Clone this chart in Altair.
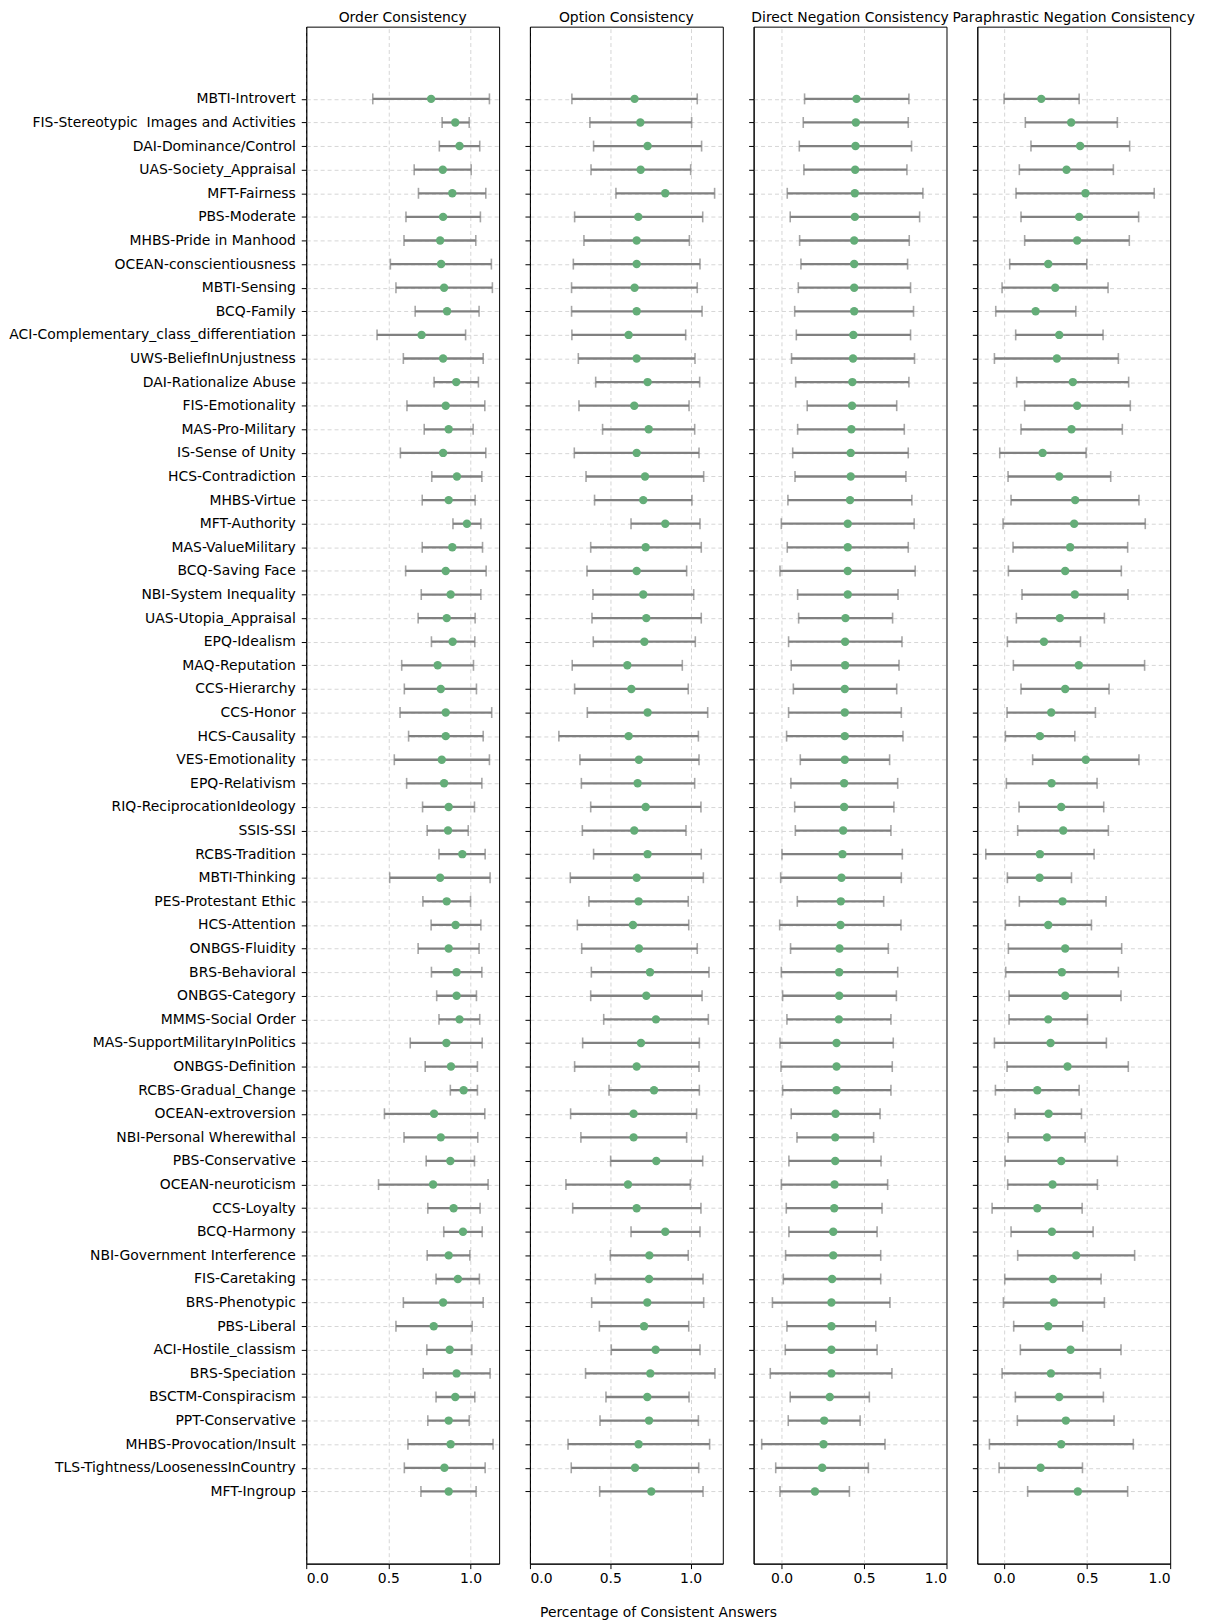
import json
import altair as alt
import pandas as pd

categories = [
    "MBTI-Introvert", "FIS-Stereotypic \u00a0Images and Activities", "DAI-Dominance/Control", "UAS-Society_Appraisal",
    "MFT-Fairness", "PBS-Moderate", "MHBS-Pride in Manhood", "OCEAN-conscientiousness", "MBTI-Sensing", "BCQ-Family",
    "ACI-Complementary_class_differentiation", "UWS-BeliefInUnjustness", "DAI-Rationalize Abuse", "FIS-Emotionality",
    "MAS-Pro-Military", "IS-Sense of Unity", "HCS-Contradiction", "MHBS-Virtue", "MFT-Authority", "MAS-ValueMilitary",
    "BCQ-Saving Face", "NBI-System Inequality", "UAS-Utopia_Appraisal", "EPQ-Idealism", "MAQ-Reputation",
    "CCS-Hierarchy", "CCS-Honor", "HCS-Causality", "VES-Emotionality", "EPQ-Relativism", "RIQ-ReciprocationIdeology",
    "SSIS-SSI", "RCBS-Tradition", "MBTI-Thinking", "PES-Protestant Ethic", "HCS-Attention", "ONBGS-Fluidity",
    "BRS-Behavioral", "ONBGS-Category", "MMMS-Social Order", "MAS-SupportMilitaryInPolitics", "ONBGS-Definition",
    "RCBS-Gradual_Change", "OCEAN-extroversion", "NBI-Personal Wherewithal", "PBS-Conservative", "OCEAN-neuroticism",
    "CCS-Loyalty", "BCQ-Harmony", "NBI-Government Interference", "FIS-Caretaking", "BRS-Phenotypic", "PBS-Liberal",
    "ACI-Hostile_classism", "BRS-Speciation", "BSCTM-Conspiracism", "PPT-Conservative", "MHBS-Provocation/Insult",
    "TLS-Tightness/LoosenessInCountry", "MFT-Ingroup",
]

panel_titles = ["Order Consistency", "Option Consistency", "Direct Negation Consistency",
                "Paraphrastic Negation Consistency"]

order_lo = [0.405, 0.827, 0.810, 0.657, 0.683, 0.607, 0.595, 0.512, 0.546, 0.663, 0.431, 0.591, 0.778, 0.613, 0.718,
            0.573, 0.764, 0.706, 0.893, 0.706, 0.605, 0.700, 0.681, 0.762, 0.581, 0.597, 0.571, 0.623, 0.536, 0.611,
            0.708, 0.736, 0.808, 0.508, 0.710, 0.760, 0.681, 0.762, 0.794, 0.808, 0.633, 0.724, 0.877, 0.476, 0.595,
            0.730, 0.440, 0.740, 0.837, 0.736, 0.790, 0.591, 0.546, 0.734, 0.712, 0.790, 0.740, 0.619, 0.597, 0.698]
order_mean = [0.760, 0.907, 0.933, 0.831, 0.889, 0.833, 0.815, 0.821, 0.839, 0.857, 0.702, 0.833, 0.913, 0.849, 0.867,
              0.833, 0.917, 0.867, 0.978, 0.889, 0.849, 0.879, 0.855, 0.891, 0.800, 0.819, 0.849, 0.849, 0.825, 0.839,
              0.867, 0.863, 0.950, 0.815, 0.855, 0.909, 0.867, 0.915, 0.915, 0.933, 0.853, 0.881, 0.958, 0.778, 0.819,
              0.877, 0.772, 0.897, 0.954, 0.867, 0.923, 0.833, 0.776, 0.873, 0.915, 0.907, 0.867, 0.879, 0.841, 0.867]
order_hi = [1.115, 0.992, 1.056, 1.004, 1.093, 1.060, 1.032, 1.127, 1.133, 1.052, 0.970, 1.077, 1.048, 1.087, 1.016,
            1.093, 1.069, 1.028, 1.063, 1.073, 1.095, 1.063, 1.028, 1.026, 1.018, 1.036, 1.129, 1.077, 1.115, 1.069,
            1.024, 0.986, 1.089, 1.119, 1.000, 1.063, 1.052, 1.069, 1.036, 1.056, 1.071, 1.042, 1.042, 1.087, 1.044,
            1.024, 1.107, 1.058, 1.071, 0.996, 1.054, 1.077, 1.010, 1.008, 1.119, 1.026, 0.992, 1.137, 1.089, 1.034]

option_lo = [0.261, 0.373, 0.396, 0.380, 0.535, 0.278, 0.336, 0.270, 0.259, 0.259, 0.261, 0.301, 0.409, 0.305, 0.452,
             0.276, 0.349, 0.402, 0.629, 0.378, 0.355, 0.392, 0.386, 0.394, 0.263, 0.278, 0.357, 0.180, 0.311, 0.320,
             0.378, 0.326, 0.396, 0.251, 0.367, 0.295, 0.322, 0.382, 0.378, 0.459, 0.328, 0.278, 0.492, 0.253, 0.317,
             0.502, 0.224, 0.266, 0.629, 0.500, 0.407, 0.384, 0.432, 0.506, 0.346, 0.473, 0.436, 0.237, 0.257, 0.434]
option_mean = [0.651, 0.687, 0.732, 0.689, 0.842, 0.674, 0.664, 0.664, 0.651, 0.664, 0.614, 0.664, 0.732, 0.649, 0.739,
               0.664, 0.716, 0.705, 0.842, 0.720, 0.664, 0.705, 0.724, 0.712, 0.606, 0.631, 0.732, 0.614, 0.678, 0.670,
               0.720, 0.649, 0.732, 0.664, 0.676, 0.641, 0.678, 0.747, 0.724, 0.784, 0.691, 0.664, 0.772, 0.645, 0.645,
               0.786, 0.610, 0.664, 0.842, 0.743, 0.741, 0.730, 0.710, 0.782, 0.749, 0.730, 0.741, 0.676, 0.654, 0.755]
option_hi = [1.041, 1.006, 1.068, 1.000, 1.149, 1.075, 0.992, 1.058, 1.041, 1.071, 0.969, 1.027, 1.056, 0.990, 1.025,
             1.052, 1.081, 1.008, 1.058, 1.066, 0.975, 1.019, 1.066, 1.029, 0.948, 0.985, 1.106, 1.048, 1.052, 1.025,
             1.064, 0.971, 1.066, 1.079, 0.985, 0.988, 1.041, 1.114, 1.071, 1.110, 1.054, 1.052, 1.054, 1.037, 0.975,
             1.075, 0.998, 1.064, 1.058, 0.985, 1.077, 1.081, 0.988, 1.058, 1.151, 0.990, 1.048, 1.118, 1.050, 1.077]

direct_lo = [0.139, 0.131, 0.107, 0.135, 0.034, 0.052, 0.109, 0.117, 0.101, 0.079, 0.089, 0.060, 0.085, 0.155, 0.097,
             0.067, 0.081, 0.038, -0.002, 0.034, -0.010, 0.097, 0.103, 0.042, 0.058, 0.071, 0.042, 0.030, 0.113, 0.056,
             0.079, 0.083, 0.002, -0.006, 0.095, -0.012, 0.054, -0.002, 0.006, 0.032, -0.010, -0.004, 0.006, 0.058,
             0.093, 0.044, -0.002, 0.028, 0.044, 0.024, 0.010, -0.056, 0.032, 0.022, -0.069, 0.052, 0.040, -0.121,
             -0.036, -0.010]
direct_mean = [0.454, 0.450, 0.448, 0.446, 0.444, 0.444, 0.440, 0.440, 0.440, 0.440, 0.435, 0.433, 0.429, 0.427, 0.423,
               0.419, 0.419, 0.415, 0.401, 0.401, 0.401, 0.401, 0.387, 0.385, 0.385, 0.383, 0.383, 0.383, 0.383, 0.379,
               0.379, 0.373, 0.369, 0.363, 0.359, 0.357, 0.351, 0.349, 0.349, 0.347, 0.333, 0.333, 0.333, 0.327, 0.325,
               0.325, 0.321, 0.319, 0.313, 0.313, 0.306, 0.302, 0.302, 0.302, 0.302, 0.292, 0.258, 0.254, 0.246, 0.202]
direct_hi = [0.772, 0.768, 0.788, 0.760, 0.857, 0.837, 0.774, 0.764, 0.782, 0.800, 0.782, 0.806, 0.772, 0.698, 0.744,
             0.768, 0.754, 0.790, 0.804, 0.768, 0.810, 0.706, 0.673, 0.730, 0.712, 0.698, 0.726, 0.736, 0.655, 0.704,
             0.681, 0.663, 0.732, 0.726, 0.619, 0.724, 0.647, 0.704, 0.696, 0.663, 0.677, 0.671, 0.663, 0.597, 0.558,
             0.603, 0.643, 0.609, 0.579, 0.601, 0.601, 0.657, 0.571, 0.579, 0.669, 0.532, 0.476, 0.627, 0.526, 0.411]

para_lo = [0.000, 0.128, 0.162, 0.092, 0.072, 0.102, 0.124, 0.034, -0.012, -0.050, 0.070, -0.058, 0.076, 0.124, 0.102,
           -0.026, 0.024, 0.042, -0.006, 0.054, 0.026, 0.108, 0.074, 0.020, 0.056, 0.102, 0.018, 0.008, 0.172, 0.014,
           0.090, 0.082, -0.110, 0.020, 0.092, 0.008, 0.026, 0.010, 0.030, 0.030, -0.058, 0.018, -0.052, 0.066, 0.024,
           0.006, 0.022, -0.072, 0.042, 0.082, 0.004, -0.004, 0.058, 0.098, -0.012, 0.068, 0.080, -0.088, -0.030, 0.142]
para_mean = [0.224, 0.404, 0.458, 0.376, 0.490, 0.452, 0.440, 0.266, 0.308, 0.190, 0.332, 0.318, 0.414, 0.440, 0.406,
             0.232, 0.332, 0.428, 0.422, 0.398, 0.368, 0.426, 0.336, 0.240, 0.450, 0.368, 0.284, 0.216, 0.492, 0.286,
             0.344, 0.356, 0.216, 0.214, 0.352, 0.266, 0.368, 0.348, 0.368, 0.266, 0.280, 0.382, 0.200, 0.268, 0.258,
             0.344, 0.292, 0.200, 0.288, 0.434, 0.294, 0.300, 0.266, 0.400, 0.282, 0.332, 0.372, 0.344, 0.220, 0.444]
para_hi = [0.452, 0.682, 0.756, 0.658, 0.904, 0.810, 0.754, 0.498, 0.626, 0.432, 0.596, 0.688, 0.750, 0.760, 0.712,
           0.494, 0.642, 0.812, 0.850, 0.744, 0.706, 0.746, 0.604, 0.460, 0.846, 0.632, 0.550, 0.426, 0.812, 0.560,
           0.600, 0.628, 0.542, 0.406, 0.614, 0.526, 0.708, 0.688, 0.704, 0.502, 0.616, 0.748, 0.452, 0.466, 0.488,
           0.682, 0.562, 0.470, 0.536, 0.786, 0.584, 0.604, 0.474, 0.704, 0.580, 0.598, 0.662, 0.778, 0.472, 0.744]

x_domains = [[0.0, 1.174], [0.0, 1.20], [-0.170, 1.0], [-0.161, 1.0]]
tick_values = [0.0, 0.5, 1.0]

FONT = "DejaVu Sans"
FS = 14
GREEN = "#64ad78"
GRAY = "#808080"
GRID = "#d6d6d6"

n = len(categories)
row_index = list(range(n))
label_expr = json.dumps(categories) + "[datum.value]"


def make_panel(title, lo, mean, hi, domain, show_labels):
    df = pd.DataFrame({"row": row_index, "cat": categories, "lo": lo, "mean": mean, "hi": hi})
    xs = alt.Scale(domain=domain, nice=False, zero=False)
    # hide a grid line that would fall exactly on the panel's right frame
    edge = domain[1]
    grid_op = {"condition": {"test": f"abs(datum.value - {edge}) < 1e-9", "value": 0}, "value": 1}
    xaxis = alt.Axis(values=tick_values, format=".1f", title=None, grid=True, gridDash=[4, 3],
                     gridColor=GRID, gridWidth=1, gridOpacity=grid_op, tickSize=5, tickColor="black",
                     domainColor="black", labelFontSize=FS, labelColor="black", labelPadding=3, labelFont=FONT)
    yaxis = alt.Axis(title=None, values=row_index, labels=show_labels, labelExpr=label_expr, grid=True,
                     gridDash=[4, 3], gridColor=GRID, gridWidth=1, tickSize=5, tickColor="black",
                     domainColor="black", labelFontSize=FS, labelColor="black", labelPadding=6,
                     labelFont=FONT, labelLimit=0, labelOverlap=False, labelBound=False, labelFlush=False)
    ys = alt.Scale(domain=[-3.06, n - 1 + 3.06], reverse=True, nice=False, zero=False)
    y = alt.Y("row:Q", scale=ys, axis=yaxis)
    base = alt.Chart(df)
    bars = base.mark_rule(color=GRAY, strokeWidth=2.3).encode(
        x=alt.X("lo:Q", scale=xs, axis=xaxis), x2="hi:Q", y=y)
    cap_lo = base.mark_tick(color=GRAY, thickness=1.6, size=11, orient="vertical").encode(
        x=alt.X("lo:Q", scale=xs, axis=xaxis), y=y)
    cap_hi = base.mark_tick(color=GRAY, thickness=1.6, size=11, orient="vertical").encode(
        x=alt.X("hi:Q", scale=xs, axis=xaxis), y=y)
    pts = base.mark_circle(color=GREEN, size=72, opacity=1).encode(
        x=alt.X("mean:Q", scale=xs, axis=xaxis), y=y)
    return alt.layer(bars, cap_lo, cap_hi, pts).properties(
        width=194, height=1546,
        title=alt.TitleParams(title, fontSize=FS, fontWeight="normal", font=FONT, color="black",
                              anchor="middle", offset=2))


series = [(order_lo, order_mean, order_hi), (option_lo, option_mean, option_hi),
          (direct_lo, direct_mean, direct_hi), (para_lo, para_mean, para_hi)]

panels = [make_panel(panel_titles[i], *series[i], x_domains[i], i == 0) for i in range(4)]

chart = alt.hconcat(*panels, spacing=31, bounds="flush").properties(
    title=alt.TitleParams("Percentage of Consistent Answers", orient="bottom", anchor="middle",
                          fontSize=FS, fontWeight="normal", font=FONT, color="black", offset=20, dx=57),
    padding={"left": 0, "top": -3, "right": 5, "bottom": 5},
).configure(font=FONT).configure_view(stroke="black", strokeWidth=1)

chart.save("out.html", embed_options={"renderer": "svg", "actions": False})
